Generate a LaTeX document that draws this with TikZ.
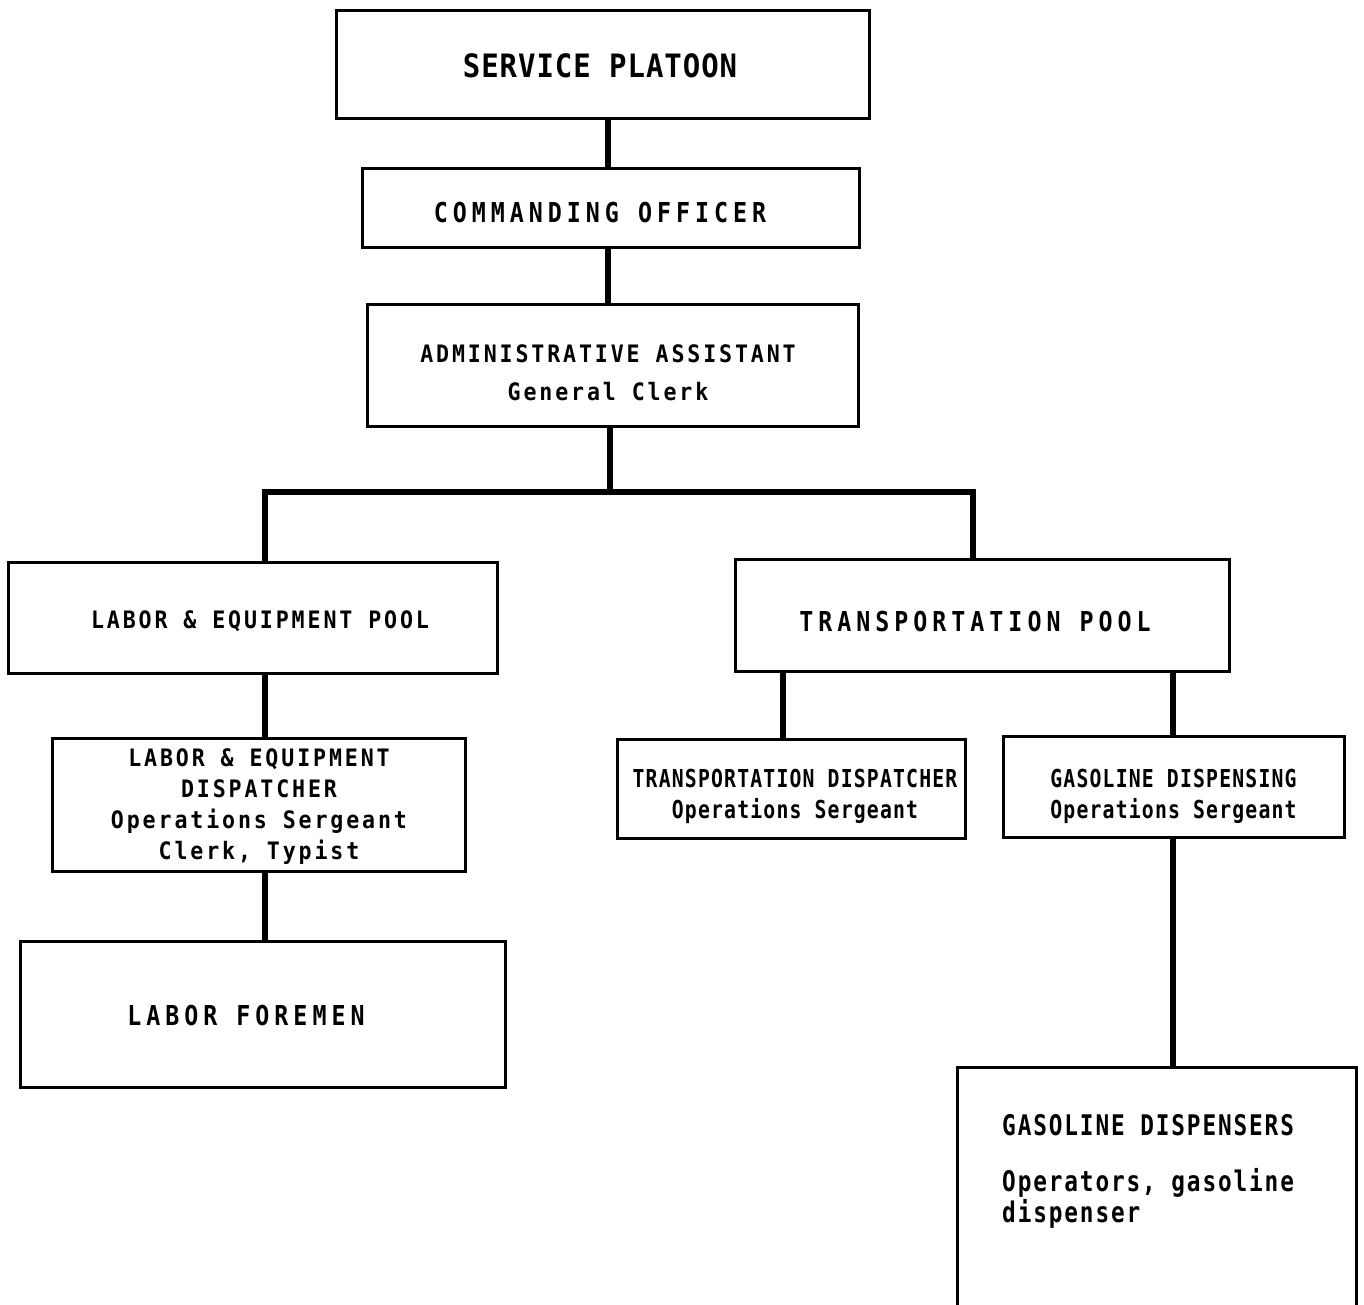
\documentclass[tikz,border=0pt]{standalone}
\usepackage{fontspec}
\newfontfamily\bigfont{DejaVu Sans Mono}[FakeStretch=0.9,LetterSpace=3]
\newfontfamily\widefont{DejaVu Sans Mono}[FakeStretch=0.85,LetterSpace=18.2]
\newfontfamily\medfont{DejaVu Sans Mono}[FakeStretch=0.9,LetterSpace=12]
\newfontfamily\gasfont{DejaVu Sans Mono}[FakeStretch=0.8,LetterSpace=6.6]
\newfontfamily\smallfont{DejaVu Sans Mono}[FakeStretch=0.8,LetterSpace=4.8]
\tikzset{
  box/.style={draw,line width=3pt,inner sep=0pt},
  link/.style={line width=5.5pt},
  lbl/.style={inner sep=0pt,anchor=base,align=center},
  bigtxt/.style={lbl,font=\bigfont\bfseries\fontsize{32.2}{38}\selectfont},
  widetxt/.style={lbl,font=\widefont\bfseries\fontsize{27.4}{33}\selectfont},
  medtxt/.style={lbl,font=\medfont\bfseries\fontsize{24}{31}\selectfont},
  gastxt/.style={lbl,font=\gasfont\bfseries\fontsize{28.4}{31}\selectfont},
  smalltxt/.style={lbl,font=\smallfont\bfseries\fontsize{24.7}{31}\selectfont}
}
\begin{document}
\begin{tikzpicture}[x=1pt,y=-1pt]
    \useasboundingbox (0,0) rectangle (1364,1304);
    \node[box,minimum width=533pt,minimum height=108pt] (platoon) at (602.5,64) {};
    \node[box,minimum width=497pt,minimum height=79pt] (officer) at (610.5,207.5) {};
    \node[box,minimum width=491pt,minimum height=122pt] (admin) at (612.5,365) {};
    \node[box,minimum width=489pt,minimum height=111pt] (labpool) at (252.5,617.5) {};
    \node[box,minimum width=494pt,minimum height=112pt] (transpool) at (982,615) {};
    \node[box,minimum width=413pt,minimum height=133pt] (labdisp) at (258.5,804.5) {};
    \node[box,minimum width=348pt,minimum height=99pt] (transdisp) at (791,788.5) {};
    \node[box,minimum width=341pt,minimum height=101pt] (gasdisp) at (1173.5,786.5) {};
    \node[box,minimum width=485pt,minimum height=146pt] (foremen) at (262.5,1014) {};
    \node[box,minimum width=399pt,minimum height=263pt] (gasmen) at (1156.5,1198.5) {};
    \coordinate (spine) at (608,0);
    \coordinate (split) at (610,492);
    \coordinate (lft) at (265,492);
    \coordinate (rgt) at (973,492);
    \coordinate (td) at (783,0);
    \coordinate (gd) at (1173,0);
    \draw[link] (platoon.south -| spine) -- (officer.north -| spine);
    \draw[link] (officer.south -| spine) -- (admin.north -| spine);
    \draw[link] (admin.south -| split) -- (split);
    \draw[link] (labpool.north -| lft) -- (lft) -- (rgt) -- (transpool.north -| rgt);
    \draw[link] (labpool.south -| lft) -- (labdisp.north -| lft);
    \draw[link] (labdisp.south -| lft) -- (foremen.north -| lft);
    \draw[link] (transpool.south -| td) -- (transdisp.north -| td);
    \draw[link] (transpool.south -| gd) -- (gasdisp.north -| gd);
    \draw[link] (gasdisp.south -| gd) -- (gasmen.north -| gd);
    \node[bigtxt] (platoonlbl) at (600,77) {SERVICE PLATOON};
    \node[widetxt] (officerlbl) at (600,222) {COMMANDING OFFICER};
    \node[medtxt] (adminlbl) at (608,400) {ADMINISTRATIVE ASSISTANT\\[7pt]General Clerk};
    \node[medtxt] (labpoollbl) at (260,628) {LABOR \& EQUIPMENT POOL};
    \node[widetxt] (transpoollbl) at (975,631) {TRANSPORTATION POOL};
    \node[medtxt] (labdisplbl) at (259,859) {LABOR \& EQUIPMENT\\DISPATCHER\\Operations Sergeant\\Clerk, Typist};
    \node[smalltxt] (transdisplbl) at (795,818) {TRANSPORTATION DISPATCHER\\Operations Sergeant};
    \node[smalltxt] (gasdisplbl) at (1173.5,818) {GASOLINE DISPENSING\\Operations Sergeant};
    \node[widetxt] (foremenlbl) at (246,1025) {LABOR FOREMEN};
    \node[gastxt,anchor=base west,align=left] (gasmenlbl) at (1002,1222) {GASOLINE DISPENSERS\\[25pt]Operators, gasoline\\dispenser};
\end{tikzpicture}
\end{document}
